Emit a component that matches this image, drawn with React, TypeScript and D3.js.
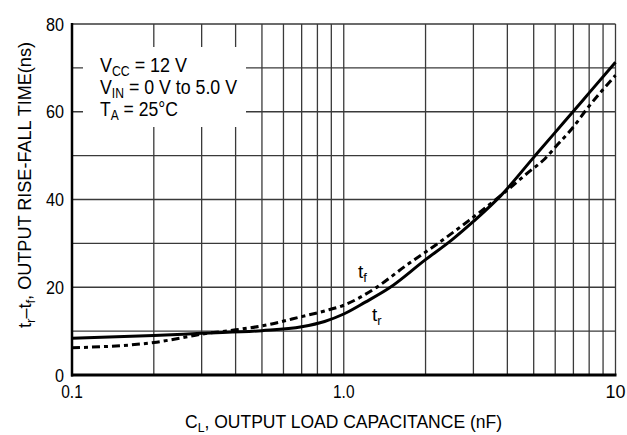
import React from "react";
import * as d3 from "d3";

const capTr = [0.1, 0.2, 0.3, 0.5, 0.7, 0.85, 1.0, 1.2, 1.46, 2.0, 2.5, 3.0, 3.8, 5.0, 6.0, 7.0, 8.0, 10];
const valTr = [8.4, 9.0, 9.5, 10.1, 11.0, 12.2, 13.9, 16.6, 19.7, 26.3, 30.8, 35.0, 41.0, 49.6, 55.3, 60.1, 64.3, 71.3];

const capTf = [0.1, 0.2, 0.25, 0.3, 0.4, 0.5, 0.7, 0.85, 1.0, 1.3, 1.7, 2.2, 2.9, 3.8, 4.8, 5.5, 6.1, 6.8, 8.0, 10];
const valTf = [6.2, 7.4, 8.4, 9.3, 10.3, 11.2, 13.3, 14.6, 15.9, 19.7, 25.0, 29.8, 35.3, 41.0, 46.3, 49.3, 52.4, 55.6, 61.3, 68.3];

const yTicks = [0, 20, 40, 60, 80];
const yGrid = [0, 10, 20, 30, 40, 50, 60, 70, 80];
const xTickVals = [0.1, 1, 10];
const xTickLabels = ["0.1", "1.0", "10"];
const xGrid = [0.2, 0.3, 0.4, 0.5, 0.6, 0.7, 0.8, 0.9, 1, 2, 3, 4, 5, 6, 7, 8, 9, 10];

const FONT = "'Liberation Sans', Arial, sans-serif";

export default function App() {
  const L = 72, R = 615.5, T = 24, B = 375;
  const x = d3.scaleLog().domain([0.1, 10]).range([L, R]);
  const y = d3.scaleLinear().domain([0, 80]).range([B, T]);

  const line = d3
    .line<[number, number]>()
    .x((d) => x(d[0]))
    .y((d) => y(d[1]))
    .curve(d3.curveMonotoneX);

  const trPts = capTr.map((c, i) => [c, valTr[i]] as [number, number]);
  const tfPts = capTf.map((c, i) => [c, valTf[i]] as [number, number]);

  const gridColor = "#3a3a3a";
  const adj = "spacingAndGlyphs";

  return (
    <svg width={627} height={435} style={{ position: "absolute", left: 0, top: 0, background: "#fff" }} fontFamily={FONT}>
      <rect x={0} y={0} width={627} height={435} fill="#fff" />
      {yGrid.map((v) => (
        <line key={"h" + v} x1={L} x2={R} y1={y(v)} y2={y(v)} stroke={gridColor} strokeWidth={1.3} />
      ))}
      {xGrid.map((v) => (
        <line key={"v" + v} x1={x(v)} x2={x(v)} y1={T} y2={B} stroke={gridColor} strokeWidth={1.3} />
      ))}
      <rect x={83} y={47} width={163} height={80} fill="#fff" />
      <text x={100} y={72} fontSize={20.5} fill="#000" textLength={87} lengthAdjust={adj}>
        V<tspan fontSize={14} dy={4}>CC</tspan>
        <tspan dy={-4}> = 12 V</tspan>
      </text>
      <text x={100} y={94} fontSize={20.5} fill="#000" textLength={137} lengthAdjust={adj}>
        V<tspan fontSize={14} dy={4}>IN</tspan>
        <tspan dy={-4}> = 0 V to 5.0 V</tspan>
      </text>
      <text x={100} y={116} fontSize={20.5} fill="#000" textLength={78} lengthAdjust={adj}>
        T<tspan fontSize={14} dy={4}>A</tspan>
        <tspan dy={-4}> = 25°C</tspan>
      </text>

      <path d={line(trPts) || ""} fill="none" stroke="#000" strokeWidth={3} />
      <path d={line(tfPts) || ""} fill="none" stroke="#000" strokeWidth={3} strokeDasharray="8,4,4,4" />

      <line x1={L} x2={L} y1={T - 1} y2={B + 1.5} stroke="#000" strokeWidth={2.5} />
      <line x1={L - 1} x2={R + 1} y1={B} y2={B} stroke="#000" strokeWidth={3} />

      {yTicks.map((v) => (
        <text key={"yt" + v} x={64} y={y(v)} dy={6.5} fontSize={18} textAnchor="end" fill="#000"
          textLength={v === 0 ? 9 : 18} lengthAdjust={adj}>
          {v}
        </text>
      ))}
      {xTickVals.map((v, i) => (
        <text key={"xt" + v} x={x(v)} y={398} fontSize={18} textAnchor="middle" fill="#000"
          textLength={xTickLabels[i] === "10" ? 20 : 21.5} lengthAdjust={adj}>
          {xTickLabels[i]}
        </text>
      ))}

      <text x={358} y={278} fontSize={19} fill="#000">
        t<tspan fontSize={13} dy={4}>f</tspan>
      </text>
      <text x={372} y={321} fontSize={19} fill="#000">
        t<tspan fontSize={13} dy={4}>r</tspan>
      </text>

      <text x={185} y={428} fontSize={18.5} fill="#000" textLength={317} lengthAdjust={adj}>
        C<tspan fontSize={13} dy={4}>L</tspan>
        <tspan dy={-4}>, OUTPUT LOAD CAPACITANCE (nF)</tspan>
      </text>

      <text transform="translate(31,328) rotate(-90)" fontSize={18} fill="#000" textLength={286} lengthAdjust={adj}>
        t<tspan fontSize={13} dy={4}>r</tspan>
        <tspan dy={-4}>–t</tspan>
        <tspan fontSize={13} dy={4}>f</tspan>
        <tspan dy={-4}>, OUTPUT RISE-FALL TIME(ns)</tspan>
      </text>
    </svg>
  );
}
